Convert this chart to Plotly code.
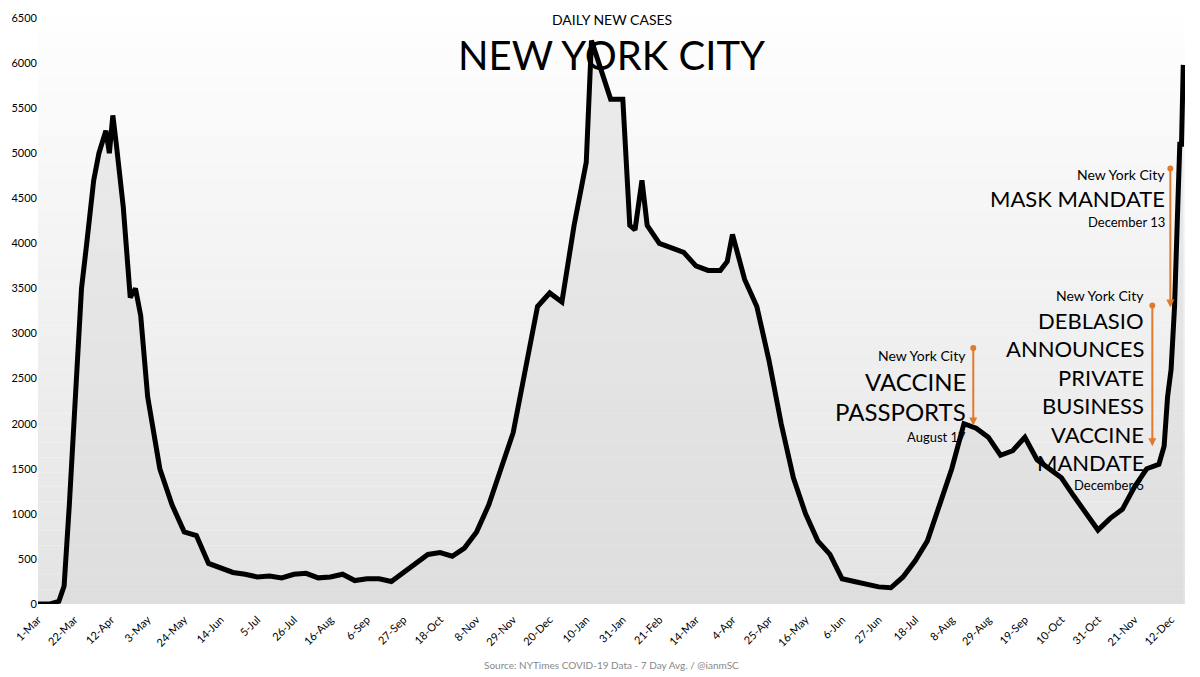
import plotly.graph_objects as go
import pandas as pd

dates = ["2020-03-01","2020-03-08","2020-03-13","2020-03-16","2020-03-19","2020-03-22","2020-03-26","2020-03-29","2020-04-02",
"2020-04-05","2020-04-09","2020-04-11","2020-04-13","2020-04-15","2020-04-19","2020-04-23","2020-04-26","2020-04-29","2020-05-03","2020-05-10",
"2020-05-17","2020-05-24","2020-05-31","2020-06-07","2020-06-14","2020-06-21","2020-06-28","2020-07-05","2020-07-12",
"2020-07-19","2020-07-26","2020-08-02","2020-08-09","2020-08-16","2020-08-23","2020-08-30","2020-09-06","2020-09-13",
"2020-09-20","2020-09-27","2020-10-04","2020-10-11","2020-10-18","2020-10-25","2020-11-01","2020-11-08","2020-11-15",
"2020-11-22","2020-11-29","2020-12-06","2020-12-13","2020-12-20","2020-12-27","2021-01-03","2021-01-10","2021-01-13",
"2021-01-17","2021-01-24","2021-01-31","2021-02-04","2021-02-07","2021-02-11","2021-02-14","2021-02-21","2021-02-28",
"2021-03-07","2021-03-14","2021-03-21","2021-03-28","2021-04-01","2021-04-04","2021-04-11","2021-04-18","2021-04-25",
"2021-05-02","2021-05-09","2021-05-16","2021-05-23","2021-05-30","2021-06-06","2021-06-13","2021-06-20","2021-06-27",
"2021-07-04","2021-07-11","2021-07-18","2021-07-25","2021-08-01","2021-08-08","2021-08-15","2021-08-22","2021-08-29",
"2021-09-05","2021-09-12","2021-09-19","2021-09-26","2021-10-03","2021-10-10","2021-10-17","2021-10-24","2021-10-31",
"2021-11-07","2021-11-14","2021-11-21","2021-11-28","2021-12-05","2021-12-08","2021-12-10","2021-12-12","2021-12-14",
"2021-12-16","2021-12-17","2021-12-18","2021-12-19"]
cases = [0,0,30,200,1100,2200,3500,4000,4700,
5000,5250,5000,5420,5100,4400,3400,3500,3200,2300,1500,
1100,800,760,450,400,350,330,300,310,
290,330,340,290,300,330,260,280,280,
250,350,450,550,570,530,620,800,1100,
1500,1900,2600,3300,3450,3350,4200,4900,6250,
6000,5600,5600,4200,4150,4700,4200,4000,3950,
3900,3750,3700,3700,3800,4100,3600,3300,2700,
2000,1400,1000,700,550,280,250,220,190,
180,300,480,700,1100,1500,2000,1950,1850,
1650,1700,1850,1600,1500,1400,1200,1000,820,
950,1050,1300,1500,1550,1750,2300,2600,3300,
4500,5100,5100,5980]

tick_labels = ["1-Mar","22-Mar","12-Apr","3-May","24-May","14-Jun","5-Jul","26-Jul","16-Aug","6-Sep","27-Sep",
"18-Oct","8-Nov","29-Nov","20-Dec","10-Jan","31-Jan","21-Feb","14-Mar","4-Apr","25-Apr","16-May","6-Jun",
"27-Jun","18-Jul","8-Aug","29-Aug","19-Sep","10-Oct","31-Oct","21-Nov","12-Dec"]
tick_dates = pd.date_range("2020-03-01", periods=len(tick_labels), freq="21D")
y_ticks = list(range(0, 6501, 500))

FONT = "Lato"
fig = go.Figure()

n = 40
for i in range(n):
    c = int(255 - (255 - 228) * (1 - i / n))
    fig.add_shape(type="rect", xref="paper", yref="paper", x0=0, x1=1, y0=i / n, y1=(i + 1) / n,
                  fillcolor=f"rgb({c},{c},{c})", line_width=0, layer="below")

fig.add_trace(go.Scatter(x=pd.to_datetime(dates), y=cases, mode="lines",
                         line=dict(color="black", width=5, shape="linear"),
                         fill="tozeroy", fillcolor="rgba(215,215,215,0.45)", hoverinfo="skip"))

d0 = pd.Timestamp("2020-03-01")
def D(px):
    return d0 + pd.Timedelta(days=(px - 38) / 1.74)

ann = []
def txt(px, v, s, size):
    ann.append(dict(x=D(px), y=v, xref="x", yref="y", text=s, showarrow=False, xanchor="right",
                    yanchor="middle", font=dict(family=FONT, size=size, color="black")))

for v, s, sz in [(2760, "New York City", 14), (2472, "VACCINE", 24), (2140, "PASSPORTS", 24), (1851, "August 17", 13)]:
    txt(968, v, s, sz)
for v, s, sz in [(3426, "New York City", 14), (3149, "DEBLASIO", 22), (2838, "ANNOUNCES", 22), (2517, "PRIVATE", 22),
                 (2206, "BUSINESS", 22), (1885, "VACCINE", 22), (1574, "MANDATE", 22), (1319, "December 6", 13)]:
    txt(1146, v, s, sz)
for v, s, sz in [(4767, "New York City", 14), (4501, "MASK MANDATE", 22), (4235, "December 13", 13)]:
    txt(1167, v, s, sz)

arrows = [(973, 2840, 1980), (1152, 3310, 1750), (1170, 4830, 3290)]
for px, top, bot in arrows:
    ann.append(dict(x=D(px), y=bot, ax=D(px), ay=top, xref="x", yref="y", axref="x", ayref="y",
                    showarrow=True, arrowhead=2, arrowsize=0.8, arrowwidth=2, arrowcolor="#E07B2E", text=""))
    fig.add_trace(go.Scatter(x=[D(px)], y=[top], mode="markers", marker=dict(color="#E07B2E", size=6), hoverinfo="skip"))

ann.append(dict(xref="paper", yref="paper", x=0.5, y=1.015, yanchor="top", text="DAILY NEW CASES", showarrow=False,
                font=dict(family=FONT, size=14, color="black")))
ann.append(dict(xref="paper", yref="paper", x=0.5, y=0.982, yanchor="top", text="NEW YORK CITY", showarrow=False,
                font=dict(family=FONT, size=40, color="black")))
ann.append(dict(xref="paper", yref="paper", x=0.5, y=-0.104, yanchor="middle", text="Source: NYTimes COVID-19 Data - 7 Day Avg. / @ianmSC",
                showarrow=False, font=dict(family=FONT, size=10, color="#888")))

fig.update_layout(width=1200, height=677, margin=dict(l=30, r=23, t=10, b=81, autoexpand=False),
                  paper_bgcolor="white", plot_bgcolor="rgba(0,0,0,0)", showlegend=False, annotations=ann,
                  font=dict(family=FONT, color="black"))
fig.update_xaxes(tickvals=tick_dates, ticktext=tick_labels, tickangle=-45, tickfont=dict(size=11), automargin=False,
                 range=[pd.Timestamp("2020-03-01"), pd.Timestamp("2021-12-20")], showgrid=False, zeroline=False,
                 showline=False, ticks="outside", ticklen=4, tickcolor="rgba(0,0,0,0)")
fig.update_yaxes(range=[0, 6500], tickvals=y_ticks, tickfont=dict(size=11), showgrid=False, zeroline=False,
                 ticks="", showline=False, automargin=False)
fig.write_html("out.html")
